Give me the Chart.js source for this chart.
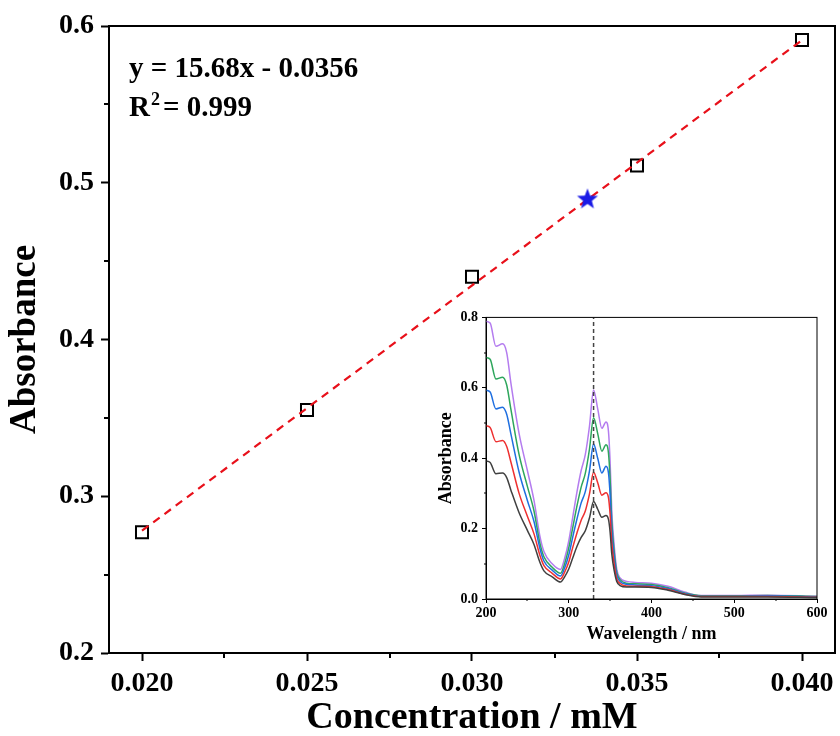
<!DOCTYPE html>
<html>
<head>
<meta charset="utf-8">
<script src="https://cdn.jsdelivr.net/npm/chart.js@4.4.1/dist/chart.umd.min.js"></script>
<style>
  html, body { margin: 0; padding: 0; background: #fff; overflow: hidden; }
  #wrap { position: relative; width: 840px; height: 736px; overflow: hidden; }
  #main { position: absolute; left: 0; top: 0; }
  #inset { position: absolute; left: 430px; top: 305px; }
</style>
</head>
<body>
<div id="wrap">
  <canvas id="main" width="847" height="736"></canvas>
  <canvas id="inset" width="400" height="340"></canvas>
</div>
<script>
// calibration points
const concentrations = [0.020, 0.025, 0.030, 0.035, 0.040];
const absorbances = [0.277, 0.355, 0.440, 0.511, 0.591];
// fitted line end points
const fitX = [0.020, 0.040];
const fitY = [0.278, 0.591];
// unknown sample (star)
const sampleX = [0.0335];
const sampleY = [0.490];

const xTicks = [0.020, 0.025, 0.030, 0.035, 0.040];
const xMinor = [0.0225, 0.0275, 0.0325, 0.0375];
const yTicks = [0.2, 0.3, 0.4, 0.5, 0.6];
const yMinor = [0.25, 0.35, 0.45, 0.55];

const equationText = "y = 15.68x - 0.0356";
const r2Text = "= 0.999";

// inset spectra
const wavelengths = [200, 205, 212, 220, 225, 230, 240, 250, 258, 265, 270, 280, 290, 295, 300, 305, 310, 315, 320, 325, 330, 335, 340, 345, 348, 350, 352, 355, 358, 362, 370, 380, 400, 420, 440, 460, 500, 540, 600];
const absBlack  = [0.392, 0.388, 0.356, 0.358, 0.345, 0.310, 0.245, 0.195, 0.155, 0.105, 0.080, 0.063, 0.048, 0.063, 0.085, 0.118, 0.150, 0.175, 0.194, 0.230, 0.277, 0.255, 0.232, 0.237, 0.226, 0.190, 0.128, 0.080, 0.050, 0.038, 0.034, 0.034, 0.033, 0.025, 0.013, 0.006, 0.006, 0.006, 0.004];
const absRed    = [0.492, 0.487, 0.447, 0.450, 0.433, 0.390, 0.300, 0.235, 0.185, 0.125, 0.095, 0.073, 0.057, 0.076, 0.105, 0.148, 0.188, 0.224, 0.250, 0.298, 0.360, 0.330, 0.295, 0.302, 0.288, 0.240, 0.160, 0.098, 0.058, 0.044, 0.037, 0.036, 0.035, 0.027, 0.014, 0.007, 0.007, 0.007, 0.005];
const absBlue   = [0.593, 0.588, 0.540, 0.545, 0.525, 0.470, 0.360, 0.280, 0.220, 0.145, 0.108, 0.082, 0.065, 0.088, 0.125, 0.178, 0.228, 0.273, 0.305, 0.363, 0.440, 0.400, 0.358, 0.377, 0.358, 0.295, 0.192, 0.117, 0.068, 0.050, 0.042, 0.040, 0.038, 0.030, 0.016, 0.008, 0.008, 0.009, 0.006];
const absGreen  = [0.686, 0.681, 0.625, 0.630, 0.608, 0.540, 0.410, 0.320, 0.250, 0.160, 0.120, 0.090, 0.073, 0.100, 0.145, 0.205, 0.265, 0.318, 0.357, 0.425, 0.515, 0.470, 0.420, 0.438, 0.415, 0.340, 0.220, 0.132, 0.076, 0.055, 0.045, 0.043, 0.041, 0.032, 0.017, 0.009, 0.009, 0.010, 0.007];
const absPurple = [0.789, 0.784, 0.718, 0.725, 0.700, 0.615, 0.470, 0.365, 0.280, 0.180, 0.135, 0.100, 0.084, 0.115, 0.165, 0.235, 0.305, 0.365, 0.410, 0.490, 0.594, 0.540, 0.485, 0.503, 0.476, 0.390, 0.250, 0.150, 0.085, 0.060, 0.050, 0.047, 0.045, 0.036, 0.020, 0.010, 0.010, 0.011, 0.008];
const peakWavelength = 330;

const insetXTicks = [200, 300, 400, 500, 600];
const insetXMinor = [250, 350, 450, 550];
const insetYTicks = [0, 0.2, 0.4, 0.6, 0.8];
const insetYMinor = [0.1, 0.3, 0.5, 0.7];

const FONT = "'Liberation Serif', 'Times New Roman', serif";

function pts(xs, ys) {
  return xs.map((x, i) => ({ x, y: ys[i] }));
}

function makeStar(size, color) {
  const c = document.createElement("canvas");
  c.width = size; c.height = size;
  const g = c.getContext("2d");
  const cx = size / 2, cy = size / 2 + 1, R = size / 2 - 1, r = R * 0.42;
  g.beginPath();
  for (let i = 0; i < 10; i++) {
    const rad = i % 2 === 0 ? R : r;
    const a = -Math.PI / 2 + i * Math.PI / 5;
    const px = cx + rad * Math.cos(a), py = cy + rad * Math.sin(a);
    if (i === 0) g.moveTo(px, py); else g.lineTo(px, py);
  }
  g.closePath();
  g.fillStyle = color;
  g.fill();
  return c;
}

// box around the plot area plus minor ticks
const framePlugin = {
  id: "frame",
  afterDraw(chart, args, opts) {
    const { ctx, chartArea: a, scales } = chart;
    ctx.save();
    ctx.strokeStyle = "#000";
    ctx.lineWidth = opts.lineWidth;
    ctx.strokeRect(a.left, a.top, a.right - a.left, a.bottom - a.top);
    ctx.beginPath();
    opts.minorX.forEach(v => {
      const px = Math.round(scales.x.getPixelForValue(v));
      ctx.moveTo(px, a.bottom); ctx.lineTo(px, a.bottom + opts.minorLen);
    });
    opts.minorY.forEach(v => {
      const py = Math.round(scales.y.getPixelForValue(v));
      ctx.moveTo(a.left, py); ctx.lineTo(a.left - opts.minorLen, py);
    });
    ctx.stroke();
    ctx.restore();
  }
};

const equationPlugin = {
  id: "equation",
  afterDraw(chart) {
    const ctx = chart.ctx;
    ctx.save();
    ctx.fillStyle = "#000";
    ctx.textBaseline = "alphabetic";
    ctx.font = "bold 29px " + FONT;
    ctx.fillText(equationText, 129, 77);
    ctx.fillText("R", 129, 116);
    const wR = ctx.measureText("R").width;
    ctx.font = "bold 18px " + FONT;
    ctx.fillText("2", 129 + wR + 1, 105);
    const w2 = ctx.measureText("2").width;
    ctx.font = "bold 29px " + FONT;
    ctx.fillText(r2Text, 129 + wR + w2 + 4, 116);
    ctx.restore();
  }
};

function axis(opts) {
  return {
    type: "linear",
    min: opts.min,
    max: opts.max,
    afterBuildTicks: s => { s.ticks = opts.ticks.map(v => ({ value: v })); },
    afterFit: opts.fit,
    ticks: {
      callback: v => v.toFixed(opts.digits),
      font: { family: FONT, size: opts.tickSize, weight: "bold" },
      color: "#000",
      padding: opts.pad,
      maxRotation: 0,
      autoSkip: false
    },
    grid: {
      display: true,
      drawOnChartArea: false,
      drawTicks: true,
      tickLength: opts.tickLen,
      tickWidth: opts.lw,
      tickColor: "#000"
    },
    border: { display: true, width: opts.lw, color: "#000" },
    title: {
      display: true,
      text: opts.title,
      color: "#000",
      font: { family: FONT, size: opts.titleSize, weight: "bold" },
      padding: opts.titlePad
    }
  };
}

new Chart(document.getElementById("main"), {
  type: "scatter",
  data: {
    datasets: [
      {
        data: pts(sampleX, sampleY),
        pointStyle: makeStar(24, "#1a1ae6"),
        pointRadius: 11
      },
      {
        data: pts(fitX, fitY),
        showLine: true,
        borderColor: "#e8101a",
        borderWidth: 2.2,
        borderDash: [8, 6],
        pointRadius: 0
      },
      {
        data: pts(concentrations, absorbances),
        pointStyle: "rect",
        pointRadius: 8.5,
        borderColor: "#000",
        borderWidth: 2,
        backgroundColor: "rgba(0,0,0,0)"
      }
    ]
  },
  options: {
    responsive: false,
    animation: false,
    layout: { padding: { top: 26, right: 4, left: 0, bottom: 0 } },
    plugins: {
      legend: { display: false },
      tooltip: { enabled: false },
      frame: { lineWidth: 2, minorX: xMinor, minorY: yMinor, minorLen: 5 }
    },
    scales: {
      x: axis({ min: 0.019, max: 0.041, ticks: xTicks, digits: 3, tickSize: 28, pad: 6, tickLen: 8, lw: 2,
        title: "Concentration / mM", titleSize: 38, titlePad: { top: 0, bottom: -5 },
        fit: s => { s.height = 83; } }),
      y: axis({ min: 0.2, max: 0.6, ticks: yTicks, digits: 1, tickSize: 28, pad: 7, tickLen: 8, lw: 2,
        title: "Absorbance", titleSize: 37, titlePad: { top: 3, bottom: 0 },
        fit: s => { s.width = 109; } })
    }
  },
  plugins: [framePlugin, equationPlugin]
});

const spectrumColors = ["#404040", "#ee3030", "#1f6fe0", "#2ea65c", "#b47cef"];
const spectra = [absBlack, absRed, absBlue, absGreen, absPurple];

new Chart(document.getElementById("inset"), {
  type: "scatter",
  data: {
    datasets: [
      {
        data: pts([peakWavelength, peakWavelength], [0, 0.8]),
        showLine: true,
        borderColor: "#444",
        borderWidth: 1.5,
        borderDash: [4, 3],
        pointRadius: 0
      },
      ...spectra.map((s, i) => ({
        data: pts(wavelengths, s),
        showLine: true,
        borderColor: spectrumColors[i],
        borderWidth: 1.5,
        cubicInterpolationMode: "monotone",
        pointRadius: 0
      }))
    ]
  },
  options: {
    responsive: false,
    animation: false,
    layout: { padding: { top: 10, right: 13, left: 0, bottom: 0 } },
    plugins: {
      legend: { display: false },
      tooltip: { enabled: false },
      frame: { lineWidth: 1, minorX: insetXMinor, minorY: insetYMinor, minorLen: 2 }
    },
    scales: {
      x: axis({ min: 200, max: 600, ticks: insetXTicks, digits: 0, tickSize: 14, pad: 2, tickLen: 4, lw: 1,
        title: "Wavelength / nm", titleSize: 18, titlePad: { top: 0, bottom: 0 },
        fit: s => { s.height = 46; } }),
      y: axis({ min: 0, max: 0.8, ticks: insetYTicks, digits: 1, tickSize: 14, pad: 4, tickLen: 4, lw: 1,
        title: "Absorbance", titleSize: 18, titlePad: { top: 6, bottom: 0 },
        fit: s => { s.width = 56; } })
    }
  },
  plugins: [framePlugin]
});
</script>
</body>
</html>
